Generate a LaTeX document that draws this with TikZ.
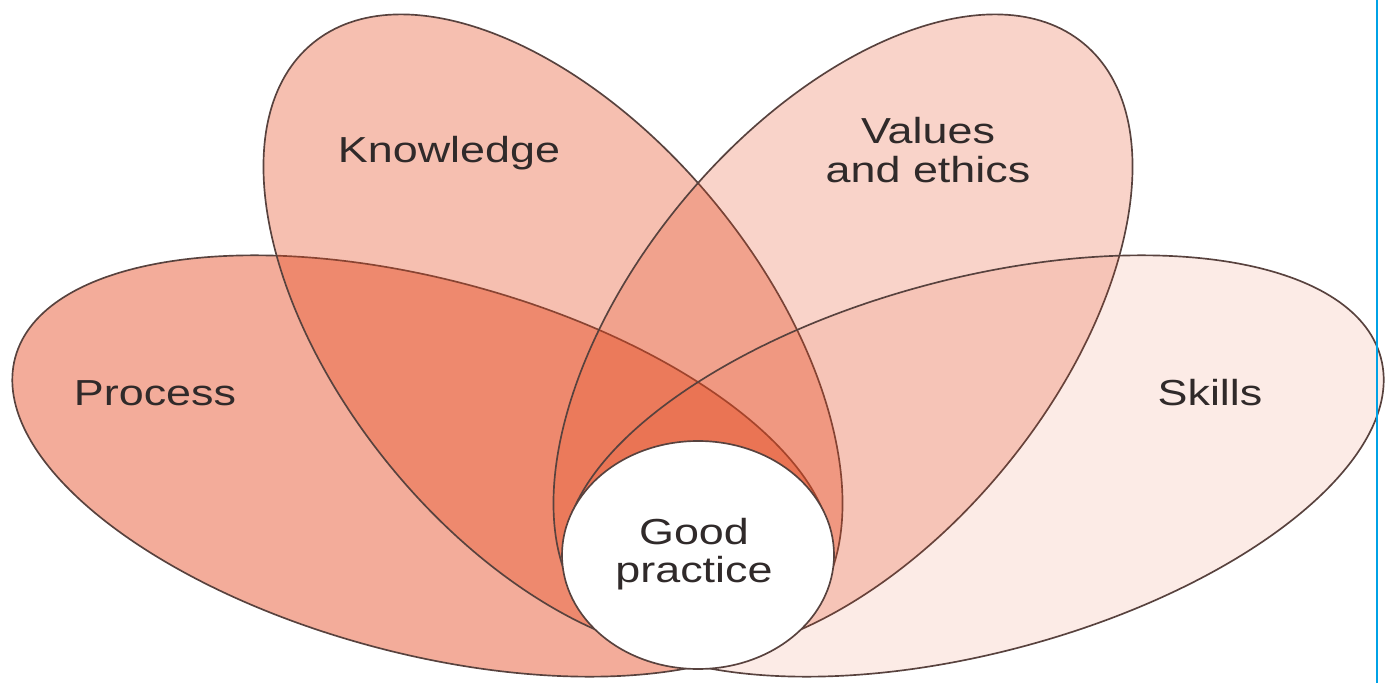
\documentclass[tikz,border=0pt]{standalone}
\usepackage{fontspec}
\setmainfont{Liberation Sans}
\definecolor{petalred}{RGB}{228,72,30}
\definecolor{rimcol}{RGB}{88,66,62}
\definecolor{textcol}{RGB}{48,42,42}
\definecolor{edgeblue}{RGB}{0,162,230}

\begin{document}
\begin{tikzpicture}[x=0.02cm,y=0.02cm,
    petal/.style={draw=rimcol,line width=0.95pt,fill=petalred},
    lbl/.style={text=textcol,font=\fontsize{20.6}{22}\selectfont,align=center,xscale=1.24,transform shape}]
    \useasboundingbox (0,0) rectangle (1391,683);

    \filldraw [petal,fill opacity=0.45] (422,217) ellipse [x radius=421,y radius=187,rotate=-14.9];
    \filldraw [petal,fill opacity=0.35] (553,348) ellipse [x radius=378,y radius=209,rotate=-50.5];
    \filldraw [petal,fill opacity=0.24] (843,348) ellipse [x radius=378,y radius=209,rotate=50.5];
    \filldraw [petal,fill opacity=0.11] (974,217) ellipse [x radius=421,y radius=187,rotate=14.9];
    \filldraw [petal,fill=white] (698,128) ellipse [x radius=136,y radius=114];

    \node [lbl] (process) at (155,290) {Process};
    \node [lbl] (knowledge) at (449,530) {Knowledge};
    \node [lbl] (values) at (928,533) {Values\\and ethics};
    \node [lbl] (skills) at (1210,290) {Skills};
    \node [lbl] (good) at (694,129) {Good\\practice};

    \draw [edgeblue,line width=1.5pt] (1377,0) -- (1377,683);
\end{tikzpicture}
\end{document}
